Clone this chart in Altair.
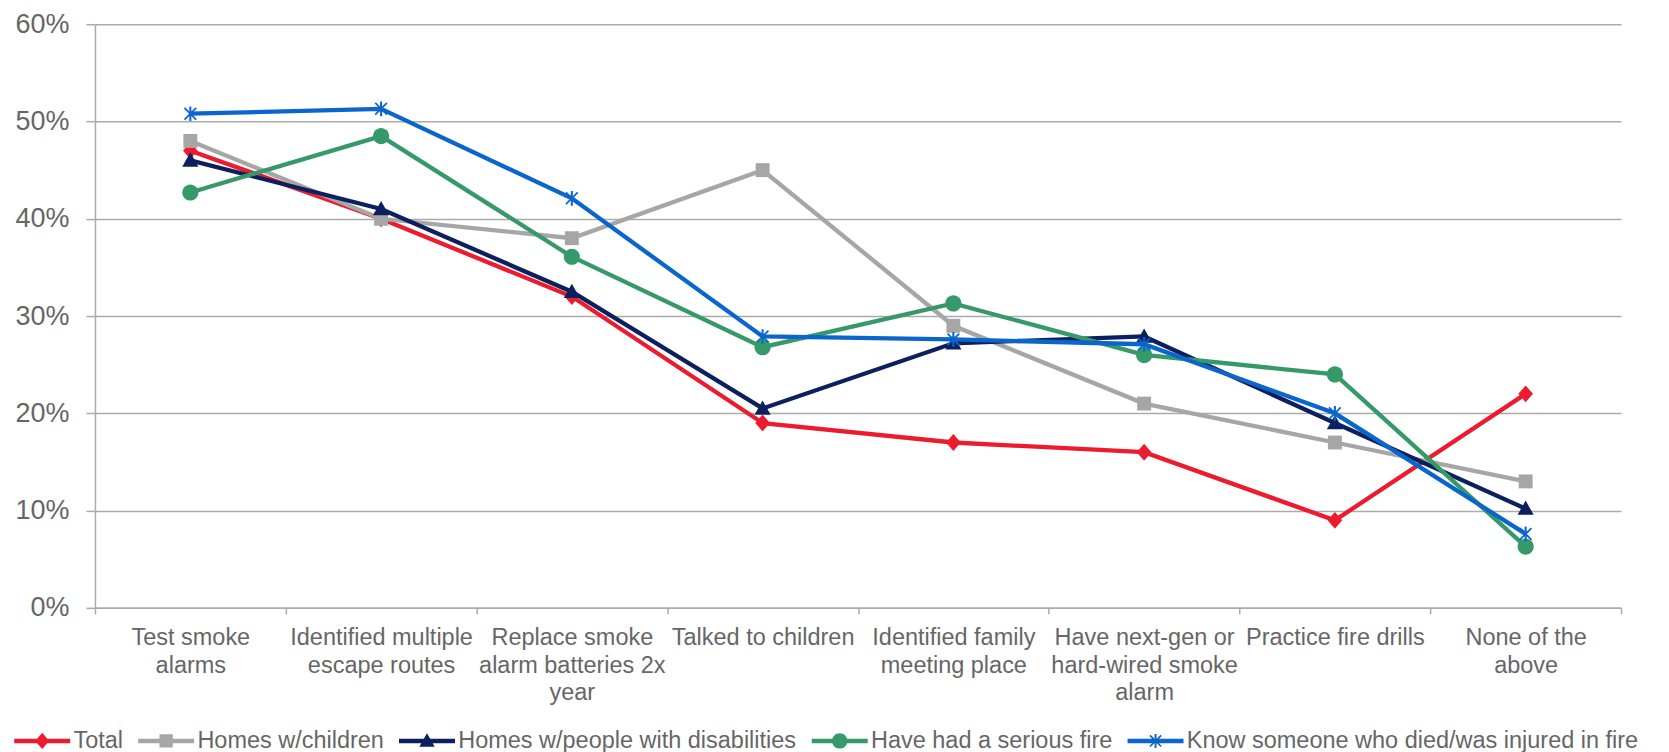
import altair as alt
import pandas as pd

# ---------------- data ----------------
categories = [
    ["Test smoke", "alarms"],
    ["Identified multiple", "escape routes"],
    ["Replace smoke", "alarm batteries 2x", "year"],
    ["Talked to children"],
    ["Identified family", "meeting place"],
    ["Have next-gen or", "hard-wired smoke", "alarm"],
    ["Practice fire drills"],
    ["None of the", "above"],
]
series_names = [
    "Total",
    "Homes w/children",
    "Homes w/people with disabilities",
    "Have had a serious fire",
    "Know someone who died/was injured in fire",
]
total = [47, 40, 32, 19, 17, 16, 9, 22]
homes_children = [48, 40, 38, 45, 29, 21, 17, 13]
homes_disabilities = [46, 41, 32.5, 20.5, 27.2, 27.9, 19, 10.2]
serious_fire = [42.7, 48.5, 36.1, 26.8, 31.3, 26.0, 24.0, 6.3]
know_someone = [50.8, 51.3, 42.1, 27.9, 27.6, 27.1, 20.0, 7.6]
y_ticks = [0, 0.1, 0.2, 0.3, 0.4, 0.5, 0.6]

# ---------------- style ----------------
colors = ["#EC1C2E", "#A6A6A6", "#0C1F5E", "#36996A", "#0A66CC"]
FONT = "Liberation Sans"
TEXT = "#666666"
GRID = "#ABABAB"

diamond = "M0,-1.15L1,0L0,1.15L-1,0Z"
square = "M-0.95,-0.95H0.95V0.95H-0.95Z"
triangle = "M0,-1.1L1.1,0.85L-1.1,0.85Z"
circle = "M-1.1,0A1.1,1.1,0,1,1,1.1,0A1.1,1.1,0,1,1,-1.1,0Z"
star = ("M-0.14,-1H0.14V1H-0.14Z"
        "M-0.715,-0.885L0.885,0.715L0.715,0.885L-0.885,-0.715Z"
        "M-0.885,0.715L0.715,-0.885L0.885,-0.715L-0.715,0.885Z")
markers = [diamond, square, triangle, circle, star]
bar = "M-4,-0.32H4V0.32H-4Z"
legend_shapes = [bar + m for m in markers]

cat_keys = ["|".join(c) for c in categories]
values = [total, homes_children, homes_disabilities, serious_fire, know_someone]
rows = []
for name, vals in zip(series_names, values):
    for key, v in zip(cat_keys, vals):
        rows.append({"cat": key, "series": name, "value": v / 100.0})
df = pd.DataFrame(rows)

W, H = 1527, 584

x_enc = alt.X(
    "cat:N",
    sort=cat_keys,
    scale=alt.Scale(type="band", domain=cat_keys, paddingInner=0, paddingOuter=0),
    axis=alt.Axis(
        title=None,
        labelExpr="split(datum.label, '|')",
        labelFont=FONT,
        labelFontSize=23.5,
        labelColor=TEXT,
        labelLineHeight=27.5,
        labelPadding=12,
        labelLimit=400,
        labelOverlap=False,
        labelAngle=0,
        labelBaseline="top",
        tickBand="extent",
        ticks=True,
        tickSize=6,
        tickColor=GRID,
        tickWidth=1.5,
        domainColor=GRID,
        domainWidth=1.5,
        grid=False,
    ),
)
y_enc = alt.Y(
    "value:Q",
    scale=alt.Scale(domain=[0, 0.6], nice=False, zero=True),
    axis=alt.Axis(
        title=None,
        values=y_ticks,
        format=".0%",
        labelFont=FONT,
        labelFontSize=27,
        labelColor=TEXT,
        labelPadding=17,
        ticks=True,
        tickSize=9,
        tickColor=GRID,
        tickWidth=1.5,
        domainColor=GRID,
        domainWidth=1.5,
        grid=True,
        gridColor=GRID,
        gridWidth=1.5,
    ),
)

layers = []
for name, col, mk in zip(series_names, colors, markers):
    base = alt.Chart(df).transform_filter(alt.datum.series == name)
    layers.append(base.mark_line(color=col, strokeWidth=4.3).encode(x=x_enc, y=y_enc))
    layers.append(
        base.mark_point(shape=mk, filled=True, color=col, size=215, opacity=1, strokeWidth=0)
        .encode(x=x_enc, y=y_enc)
    )

legend_df = pd.DataFrame({"series": series_names})


def make_legend():
    return alt.Legend(
        title=None,
        orient="none",
        legendX=-64.5,
        legendY=705,
        direction="horizontal",
        padding=0,
        columnPadding=14,
        symbolSize=196,
        symbolStrokeWidth=0,
        symbolOffset=0,
        symbolOpacity=1,
        labelOffset=19.5,
        labelFont=FONT,
        labelFontSize=23.5,
        labelColor=TEXT,
        labelLimit=1000,
    )


legend_layer = (
    alt.Chart(legend_df)
    .transform_filter("false")
    .mark_point(filled=True, opacity=1, strokeWidth=0)
    .encode(
        color=alt.Color("series:N", sort=series_names,
                        scale=alt.Scale(domain=series_names, range=colors),
                        legend=make_legend()),
        shape=alt.Shape("series:N", sort=series_names,
                        scale=alt.Scale(domain=series_names, range=legend_shapes),
                        legend=make_legend()),
    )
)
layers.append(legend_layer)

chart = (
    alt.layer(*layers)
    .properties(
        width=W,
        height=H,
        autosize=alt.AutoSizeParams(type="none"),
        padding={"left": 87, "top": 16, "right": 40, "bottom": 144},
        background="white",
    )
    .configure_view(strokeWidth=0)
)

chart.save("out.html", embed_options={"renderer": "svg", "actions": False})
